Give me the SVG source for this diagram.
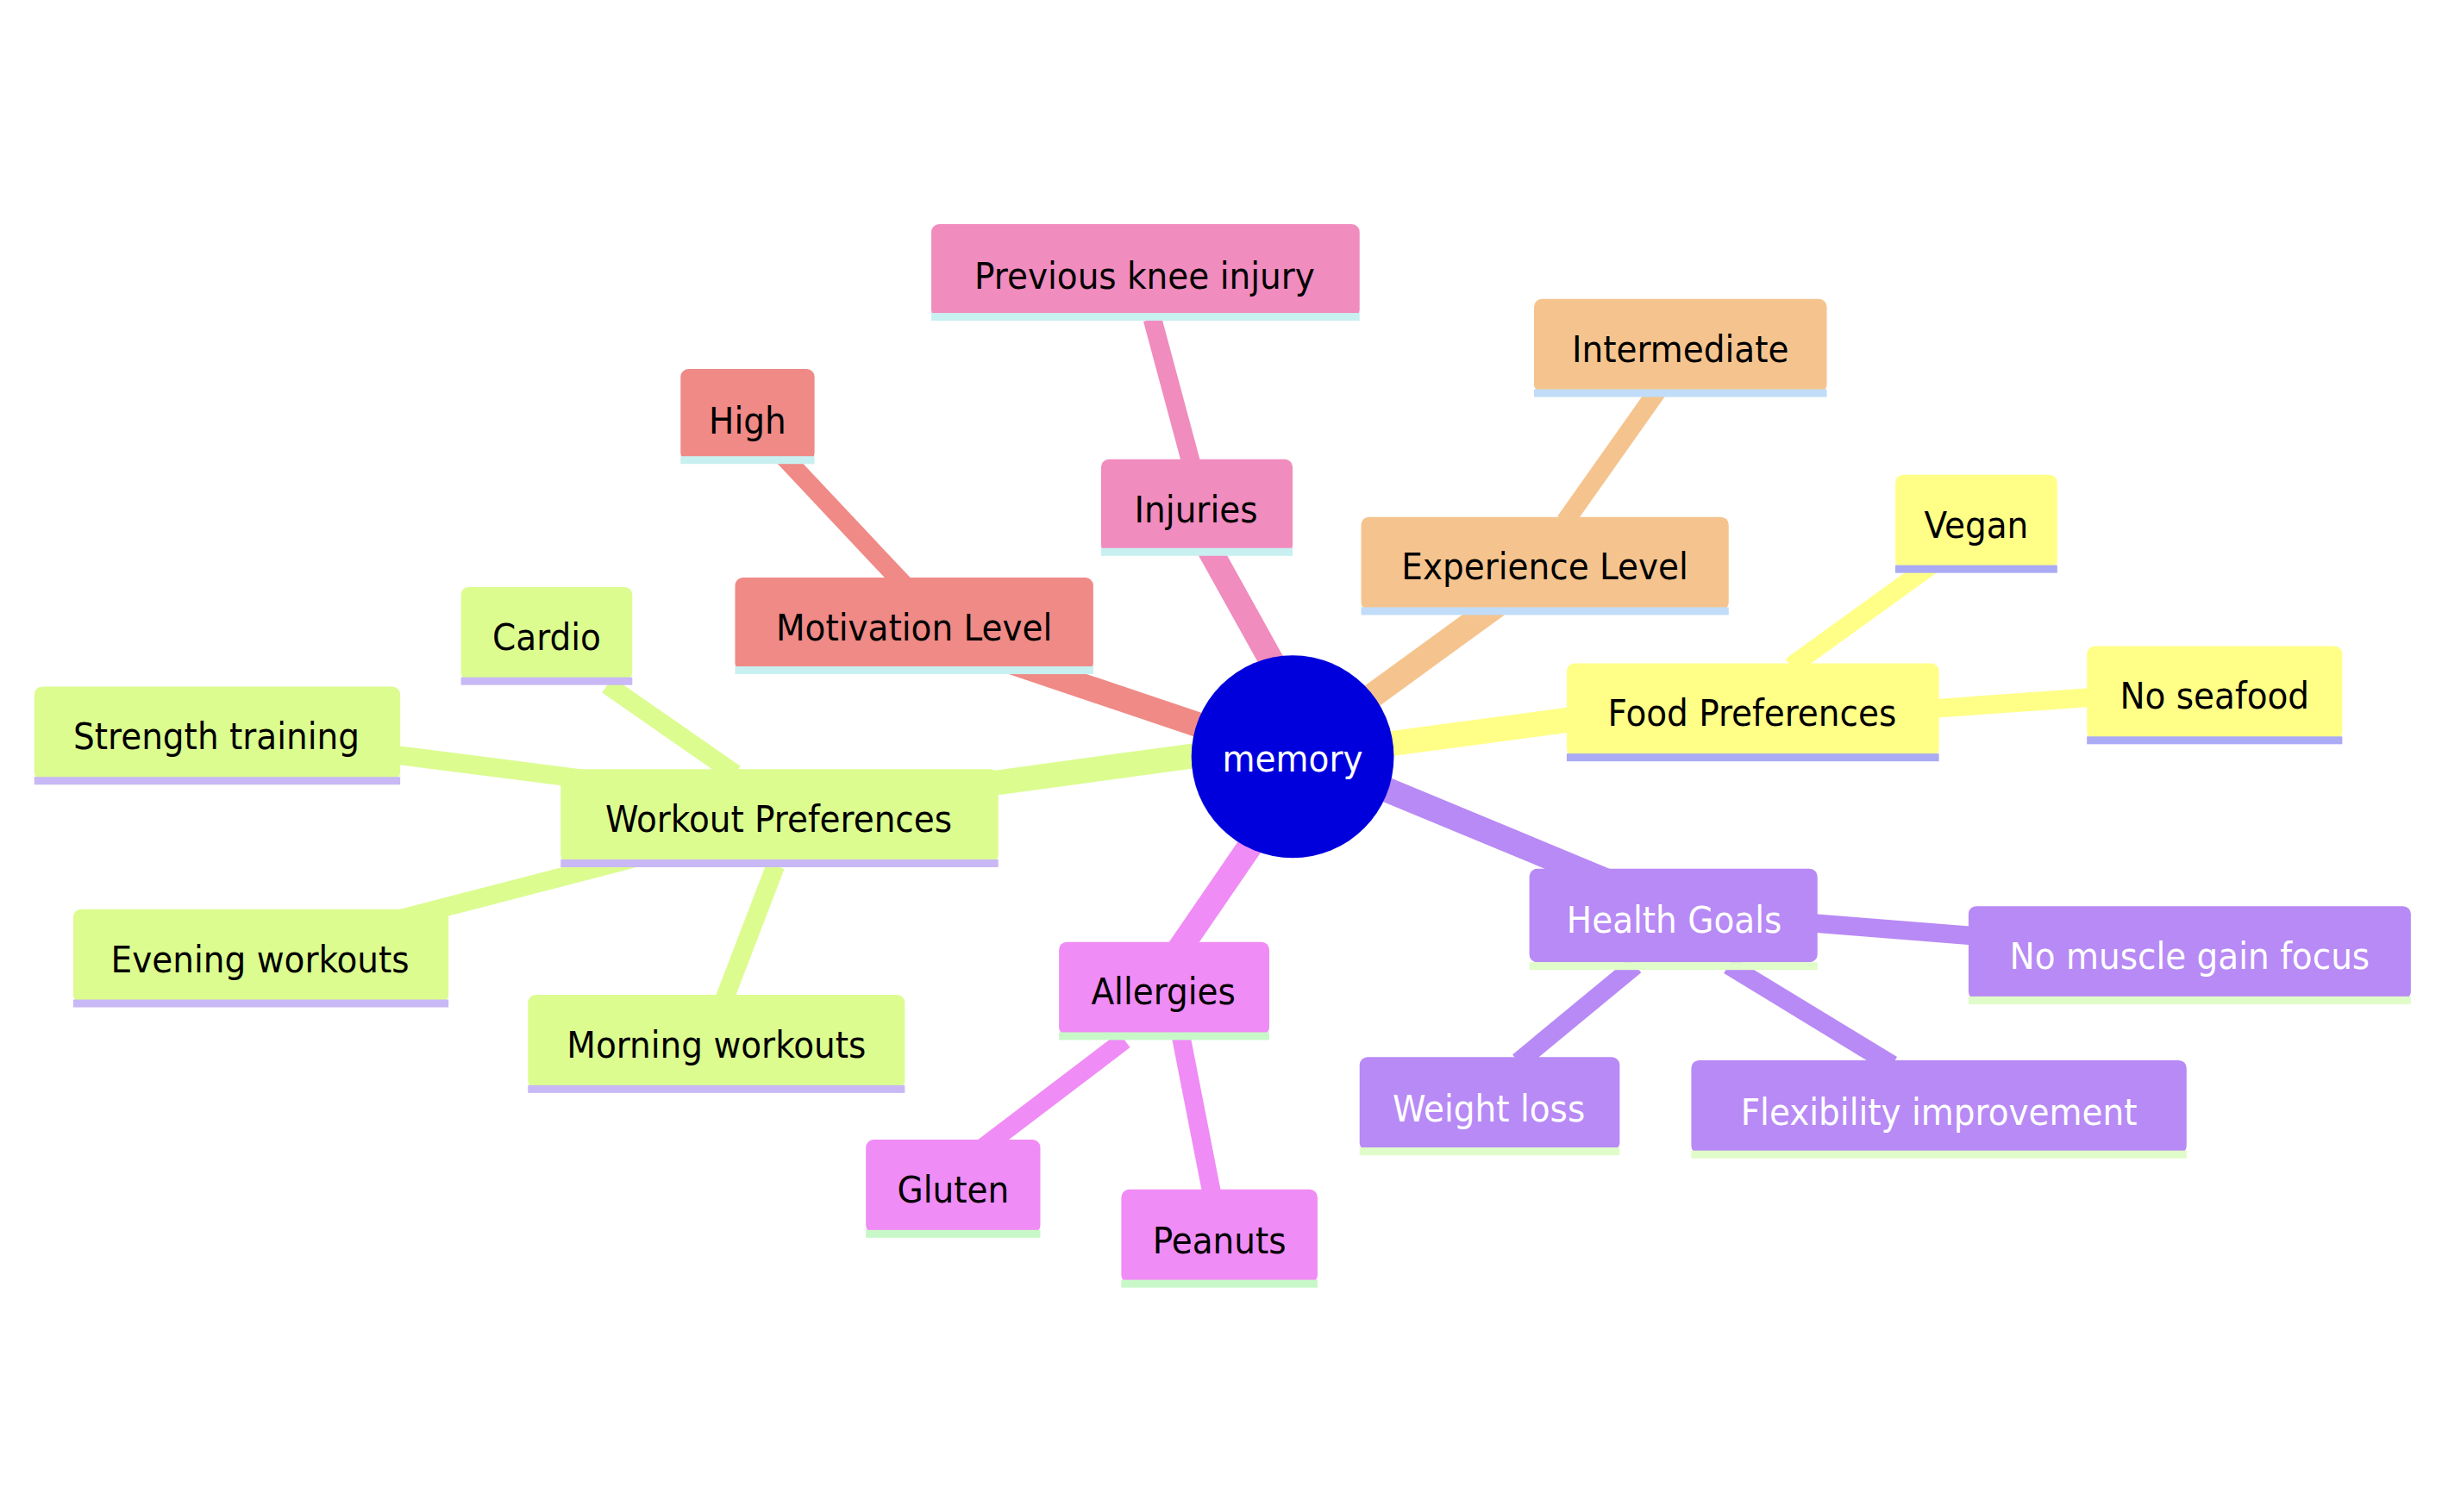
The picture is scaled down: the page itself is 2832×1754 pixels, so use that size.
<svg xmlns="http://www.w3.org/2000/svg" width="2832" height="1754" viewBox="0 0 2832 1754">
<style>
text{font-family:"DejaVu Sans Condensed","DejaVu Sans",sans-serif;font-size:24px;text-anchor:middle;dominant-baseline:central;fill:#000}
.w{fill:#fff}
line{stroke-linecap:butt}
.e1{stroke-width:16}.e2{stroke-width:12}
</style>
<rect width="2832" height="1754" fill="#fff"/>
<g transform="scale(1.8061)">
<g id="connectors">
<line class="e1" x1="830" y1="486" x2="640" y2="422" stroke="#ef8a86"/>
<line class="e2" x1="580" y1="375" x2="502" y2="292" stroke="#ef8a86"/>
<line class="e1" x1="825" y1="440" x2="775" y2="350" stroke="#f08cbe"/>
<line class="e2" x1="765" y1="298" x2="740" y2="205" stroke="#f08cbe"/>
<line class="e1" x1="870" y1="455" x2="962" y2="388" stroke="#f5c48e"/>
<line class="e2" x1="1005" y1="335" x2="1065" y2="250" stroke="#f5c48e"/>
<line class="e1" x1="890" y1="478" x2="1010" y2="462" stroke="#ffff88"/>
<line class="e2" x1="1150" y1="428" x2="1240" y2="363" stroke="#ffff88"/>
<line class="e2" x1="1244" y1="455" x2="1342" y2="448" stroke="#ffff88"/>
<line class="e1" x1="885" y1="505" x2="1032" y2="566" stroke="#b88af5"/>
<line class="e2" x1="1050" y1="620" x2="975" y2="682" stroke="#b88af5"/>
<line class="e2" x1="1110" y1="620" x2="1215" y2="684" stroke="#b88af5"/>
<line class="e2" x1="1165" y1="593" x2="1266" y2="601" stroke="#b88af5"/>
<line class="e1" x1="805" y1="540" x2="757" y2="610" stroke="#f08cf5"/>
<line class="e2" x1="722" y1="668" x2="630" y2="738" stroke="#f08cf5"/>
<line class="e2" x1="758" y1="664" x2="778" y2="766" stroke="#f08cf5"/>
<line class="e1" x1="770" y1="485" x2="638" y2="503" stroke="#dcfc90"/>
<line class="e2" x1="390" y1="440" x2="472" y2="497" stroke="#dcfc90"/>
<line class="e2" x1="255" y1="485" x2="372" y2="500" stroke="#dcfc90"/>
<line class="e2" x1="250" y1="592" x2="412" y2="550" stroke="#dcfc90"/>
<line class="e2" x1="498" y1="556" x2="465" y2="642" stroke="#dcfc90"/>
</g>
<g id="n-motivation"><rect x="472" y="371" width="230" height="60" rx="5" fill="#ef8a86"/><rect x="472" y="428" width="230" height="5" fill="#c8f0f0"/><text x="587" y="403">Motivation Level</text></g>
<g id="n-high"><rect x="437" y="237" width="86" height="59" rx="5" fill="#ef8a86"/><rect x="437" y="293" width="86" height="5" fill="#c8f0f0"/><text x="480" y="270">High</text></g>
<g id="n-injuries"><rect x="707" y="295" width="123" height="60" rx="5" fill="#f08cbe"/><rect x="707" y="352" width="123" height="5" fill="#c8f0f0"/><text x="768" y="327">Injuries</text></g>
<g id="n-knee"><rect x="598" y="144" width="275" height="60" rx="5" fill="#f08cbe"/><rect x="598" y="201" width="275" height="5" fill="#c8f0f0"/><text x="735" y="177">Previous knee injury</text></g>
<g id="n-experience"><rect x="874" y="332" width="236" height="60" rx="5" fill="#f5c48e"/><rect x="874" y="390" width="236" height="5" fill="#c0dcf8"/><text x="992" y="364">Experience Level</text></g>
<g id="n-intermediate"><rect x="985" y="192" width="188" height="60" rx="5" fill="#f5c48e"/><rect x="985" y="250" width="188" height="5" fill="#c0dcf8"/><text x="1079" y="224">Intermediate</text></g>
<g id="n-food"><rect x="1006" y="426" width="239" height="60" rx="5" fill="#ffff88"/><rect x="1006" y="484" width="239" height="5" fill="#aaaaf5"/><text x="1125" y="458">Food Preferences</text></g>
<g id="n-vegan"><rect x="1217" y="305" width="104" height="60" rx="5" fill="#ffff88"/><rect x="1217" y="363" width="104" height="5" fill="#aaaaf5"/><text x="1269" y="337">Vegan</text></g>
<g id="n-seafood"><rect x="1340" y="415" width="164" height="60" rx="5" fill="#ffff88"/><rect x="1340" y="473" width="164" height="5" fill="#aaaaf5"/><text x="1422" y="447">No seafood</text></g>
<g id="n-health"><rect x="982" y="558" width="185" height="60" rx="5" fill="#b88af5"/><rect x="982" y="618" width="185" height="5" fill="#e0fcc8"/><text class="w" x="1075" y="591">Health Goals</text></g>
<g id="n-muscle"><rect x="1264" y="582" width="284" height="60" rx="5" fill="#b88af5"/><rect x="1264" y="640" width="284" height="5" fill="#e0fcc8"/><text class="w" x="1406" y="614">No muscle gain focus</text></g>
<g id="n-weight"><rect x="873" y="679" width="167" height="60" rx="5" fill="#b88af5"/><rect x="873" y="737" width="167" height="5" fill="#e0fcc8"/><text class="w" x="956" y="712">Weight loss</text></g>
<g id="n-flex"><rect x="1086" y="681" width="318" height="60" rx="5" fill="#b88af5"/><rect x="1086" y="739" width="318" height="5" fill="#e0fcc8"/><text class="w" x="1245" y="714">Flexibility improvement</text></g>
<g id="n-allergies"><rect x="680" y="605" width="135" height="60" rx="5" fill="#f08cf5"/><rect x="680" y="663" width="135" height="5" fill="#c8f8c8"/><text x="747" y="637">Allergies</text></g>
<g id="n-gluten"><rect x="556" y="732" width="112" height="60" rx="5" fill="#f08cf5"/><rect x="556" y="790" width="112" height="5" fill="#c8f8c8"/><text x="612" y="764">Gluten</text></g>
<g id="n-peanuts"><rect x="720" y="764" width="126" height="60" rx="5" fill="#f08cf5"/><rect x="720" y="822" width="126" height="5" fill="#c8f8c8"/><text x="783" y="797">Peanuts</text></g>
<g id="n-workout"><rect x="360" y="494" width="281" height="60" rx="5" fill="#dcfc90"/><rect x="360" y="552" width="281" height="5" fill="#c8b8f5"/><text x="500" y="526">Workout Preferences</text></g>
<g id="n-cardio"><rect x="296" y="377" width="110" height="60" rx="5" fill="#dcfc90"/><rect x="296" y="435" width="110" height="5" fill="#c8b8f5"/><text x="351" y="409">Cardio</text></g>
<g id="n-strength"><rect x="22" y="441" width="235" height="60" rx="5" fill="#dcfc90"/><rect x="22" y="499" width="235" height="5" fill="#c8b8f5"/><text x="139" y="473">Strength training</text></g>
<g id="n-evening"><rect x="47" y="584" width="241" height="60" rx="5" fill="#dcfc90"/><rect x="47" y="642" width="241" height="5" fill="#c8b8f5"/><text x="167" y="616">Evening workouts</text></g>
<g id="n-morning"><rect x="339" y="639" width="242" height="60" rx="5" fill="#dcfc90"/><rect x="339" y="697" width="242" height="5" fill="#c8b8f5"/><text x="460" y="671">Morning workouts</text></g>
<g id="n-root"><ellipse cx="830" cy="486" rx="65" ry="65" fill="#0000dd"/><text class="w" x="830" y="487">memory</text></g>
</g>
</svg>
